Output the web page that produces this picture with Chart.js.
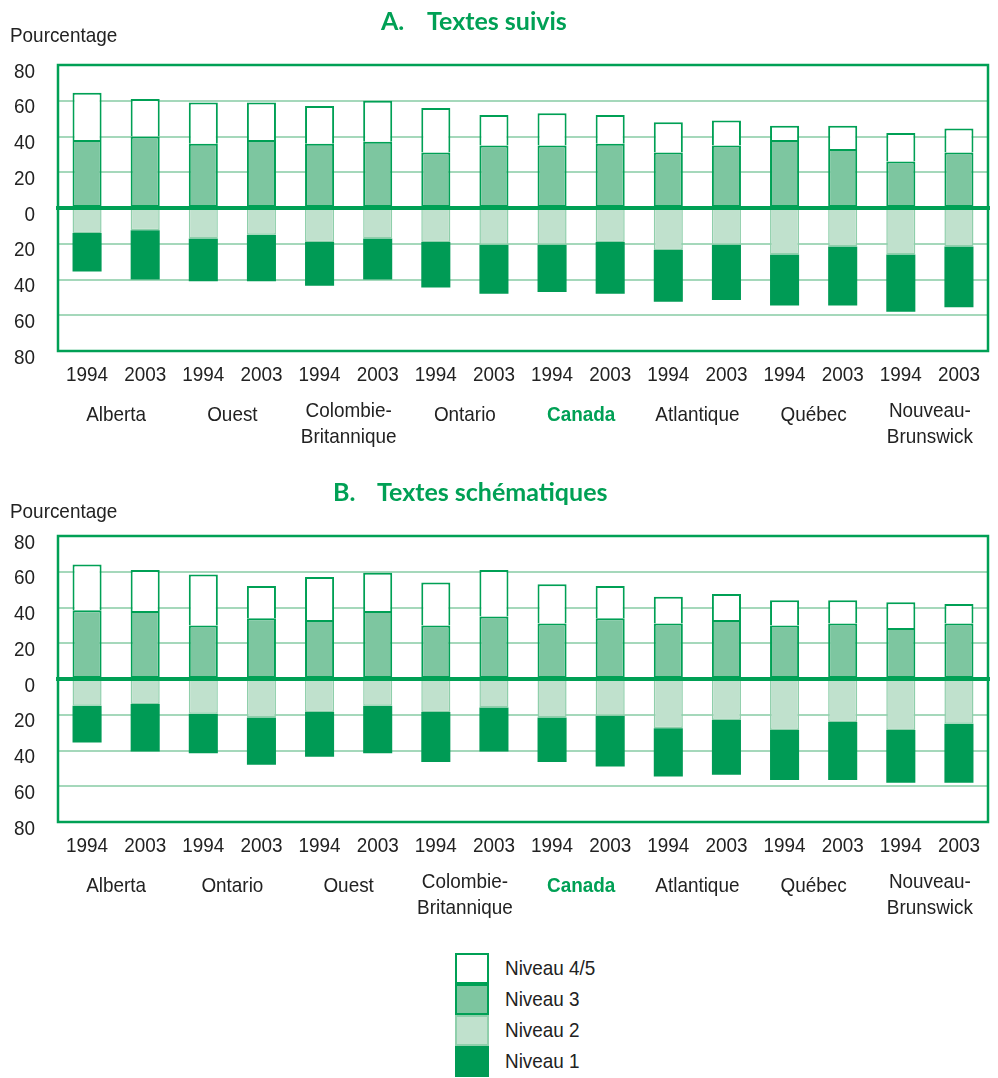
<!DOCTYPE html>
<html>
<head>
<meta charset="utf-8">
<script src="https://cdn.jsdelivr.net/npm/chart.js@4/dist/chart.umd.min.js"></script>
<style>
  body { margin: 0; background: #fff; width: 998px; height: 1078px; position: relative; overflow: hidden; }
  .wrap { position: absolute; left: 0; width: 998px; height: 460px; }
  #legend { position: absolute; left: 455px; top: 953px; font: 21px 'Liberation Sans', Arial, sans-serif; color: #222; }
  .row { position: relative; height: 31px; }
  .box { position: absolute; left: 0; top: 0; width: 34px; height: 31px; box-sizing: border-box; }
  .lab { position: absolute; left: 50px; top: 3px; white-space: nowrap; transform: scaleX(0.9); transform-origin: left center; }
</style>
</head>
<body>
<div class="wrap" style="top:0"><canvas id="chartA"></canvas></div>
<div class="wrap" style="top:471px"><canvas id="chartB"></canvas></div>
<div id="legend"></div>
<script>
// data
var years = ['1994','2003','1994','2003','1994','2003','1994','2003','1994','2003','1994','2003','1994','2003','1994','2003'];
var regionsA = [['Alberta'], ['Ouest'], ['Colombie-', 'Britannique'], ['Ontario'], ['Canada'], ['Atlantique'], ['Québec'], ['Nouveau-', 'Brunswick']];
var regionsB = [['Alberta'], ['Ontario'], ['Ouest'], ['Colombie-', 'Britannique'], ['Canada'], ['Atlantique'], ['Québec'], ['Nouveau-', 'Brunswick']];
var yTicks = [-80, -60, -40, -20, 0, 20, 40, 60, 80];

// A. Textes suivis
var niveau3A  = [38, 40, 36, 38, 36, 37, 31, 35, 35, 36, 31, 35, 38, 33, 26, 31];
var niveau45A = [26.5, 21, 23, 21, 21, 23, 25, 17, 18, 16, 17, 14, 8, 13, 16, 13.5];
var niveau2A  = [-14, -12.5, -17, -15, -19, -17, -19, -20.5, -20.5, -19, -23.5, -20.5, -26, -21.5, -26, -21.5];
var niveau1A  = [-21.5, -27.5, -24, -26, -24.5, -23, -25.5, -27.5, -26.5, -29, -29, -31, -28.5, -33, -32, -34];

// B. Textes schématiques
var niveau3B  = [38.5, 38, 30, 34, 33, 38, 30, 35, 31, 34, 31, 33, 30, 31, 28.5, 31];
var niveau45B = [25.5, 23, 28.5, 18, 24, 21.5, 24, 26, 22, 18, 15, 14.5, 14, 13, 14.5, 11];
var niveau2B  = [-15, -14, -19.5, -21.5, -18.5, -15, -18.5, -16, -21.5, -20.5, -27.5, -23, -28.5, -24, -28.5, -25];
var niveau1B  = [-20.5, -26.5, -22, -26.5, -25, -26.5, -28, -24.5, -25, -28.5, -27, -30.5, -28, -32.5, -29.5, -33];

var green = '#00a055';
var dark = '#009b55';
var mid = '#7dc6a0';
var light = '#c0e1cd';
var gridCol = '#a5d8bb';
var font = "'Liberation Sans', Arial, sans-serif";
var textCol = '#222';

var legendItems = [
    { label: 'Niveau 4/5', fill: '#fff', border: green },
    { label: 'Niveau 3', fill: mid, border: green },
    { label: 'Niveau 2', fill: light, border: '#8fcfab' },
    { label: 'Niveau 1', fill: dark, border: dark }
];

var legend = document.getElementById('legend');
legendItems.forEach(function (it) {
    var row = document.createElement('div');
    row.className = 'row';
    row.innerHTML = '<div class="box" style="background:' + it.fill + ';border:2px solid ' + it.border + '"></div><div class="lab">' + it.label + '</div>';
    legend.appendChild(row);
});

// narrow text: the source uses a condensed face, so squeeze Liberation Sans a bit
function narrowText(c, s, x, y, align, bold, color) {
    c.save();
    c.translate(x, y);
    c.scale(0.9, 1);
    c.font = (bold ? 'bold ' : '') + '21px ' + font;
    c.fillStyle = color || textCol;
    c.textAlign = align;
    c.textBaseline = 'alphabetic';
    c.fillText(s, 0, 0);
    c.restore();
}

function makeChart(id, letter, letterX, titleX, pctY, regions, n3, n45, n2, n1) {
    var extras = {
        id: 'extras' + id,
        afterDatasetsDraw: function (chart) {
            var c = chart.ctx, a = chart.chartArea;
            var y0 = chart.scales.y.getPixelForValue(0);
            c.save();
            c.strokeStyle = green;
            c.lineWidth = 4;
            c.beginPath();
            c.moveTo(a.left - 2, y0);
            c.lineTo(a.right + 2, y0);
            c.stroke();
            c.lineWidth = 2.5;
            c.strokeRect(a.left, a.top, a.right - a.left, a.bottom - a.top);
            c.restore();
        },
        afterDraw: function (chart) {
            var c = chart.ctx, x = chart.scales.x, y = chart.scales.y;
            c.save();
            c.textBaseline = 'middle';
            c.fillStyle = green;
            c.font = "bold 25px Lato, 'Open Sans', sans-serif";
            c.textAlign = 'left';
            c.fillText(letter + '.', letterX, 22);
            c.fillText(id === 'chartA' ? 'Textes suivis' : 'Textes schématiques', titleX, 22);
            c.restore();

            narrowText(c, 'Pourcentage', 10, pctY, 'left');

            yTicks.forEach(function (v) {
                narrowText(c, String(Math.abs(v)), 35, y.getPixelForValue(v) + 12.5, 'right');
            });
            years.forEach(function (yr, i) {
                narrowText(c, yr, x.getPixelForValue(i), 380.5, 'center');
            });
            regions.forEach(function (lines, i) {
                var cx = (x.getPixelForValue(2 * i) + x.getPixelForValue(2 * i + 1)) / 2;
                var isCanada = lines[0] === 'Canada';
                if (lines.length === 1) {
                    narrowText(c, lines[0], cx, 421, 'center', isCanada, isCanada ? green : textCol);
                } else {
                    narrowText(c, lines[0], cx, 417, 'center');
                    narrowText(c, lines[1], cx, 443, 'center');
                }
            });
        }
    };

    return new Chart(document.getElementById(id), {
        type: 'bar',
        data: {
            labels: years,
            datasets: [
                { label: 'Niveau 3', data: n3, backgroundColor: mid, borderColor: green, borderWidth: 2, borderSkipped: false },
                { label: 'Niveau 4/5', data: n45, backgroundColor: '#fff', borderColor: green, borderWidth: 2, borderSkipped: 'bottom' },
                { label: 'Niveau 2', data: n2, backgroundColor: light, borderColor: '#8fcfab', borderWidth: 1.5, borderSkipped: 'start' },
                { label: 'Niveau 1', data: n1, backgroundColor: dark, borderColor: dark, borderWidth: 0 }
            ]
        },
        options: {
            responsive: true,
            maintainAspectRatio: false,
            animation: false,
            layout: { padding: { top: 65, right: 10, left: 0, bottom: 0 } },
            datasets: { bar: { barPercentage: 0.5, categoryPercentage: 1 } },
            plugins: { legend: { display: false }, tooltip: { enabled: false } },
            scales: {
                x: {
                    stacked: true,
                    grid: { display: false },
                    border: { display: false },
                    ticks: { display: false },
                    afterFit: function (s) { s.height = 109; }
                },
                y: {
                    stacked: true,
                    min: -80,
                    max: 80,
                    afterBuildTicks: function (s) { s.ticks = yTicks.map(function (v) { return { value: v }; }); },
                    grid: {
                        drawTicks: false,
                        color: function (ctx) {
                            var v = ctx.tick ? ctx.tick.value : 0;
                            return (v === 0 || Math.abs(v) === 80) ? 'rgba(0,0,0,0)' : gridCol;
                        },
                        lineWidth: 2
                    },
                    border: { display: false },
                    ticks: { display: false },
                    afterFit: function (s) { s.width = 58; }
                }
            }
        },
        plugins: [extras]
    });
}

makeChart('chartA', 'A', 381, 427, 41.5, regionsA, niveau3A, niveau45A, niveau2A, niveau1A);
makeChart('chartB', 'B', 333, 377, 47, regionsB, niveau3B, niveau45B, niveau2B, niveau1B);
</script>
</body>
</html>
